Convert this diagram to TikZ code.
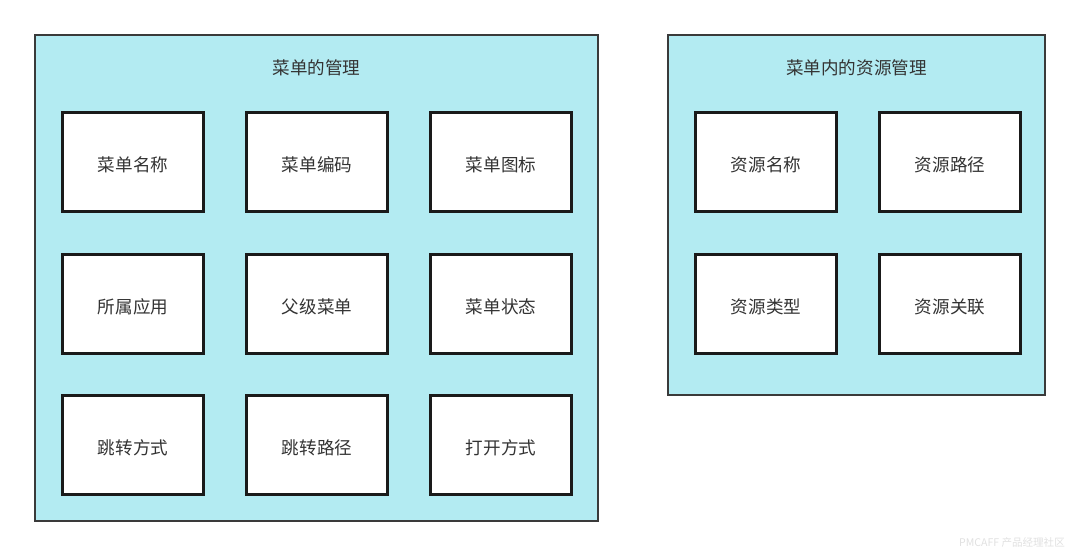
\documentclass[tikz,border=0pt]{standalone}
\usepackage{fontspec}
\setmainfont{Noto Sans CJK SC}
\definecolor{panelfill}{HTML}{B3EBF2}
\definecolor{panelline}{HTML}{3A3A3A}
\definecolor{itemline}{HTML}{1A1A1A}
\definecolor{textgray}{HTML}{333333}
\tikzset{
  panel/.style={draw=panelline, fill=panelfill, line width=1.2pt, rectangle},
  item/.style={draw=itemline, fill=white, line width=1.7pt, rectangle, minimum width=2.84cm, minimum height=2cm, text height=12pt, text depth=1pt, text=textgray, font=\fontsize{10}{12}\selectfont},
  heading/.style={text=textgray, text height=11pt, text depth=1pt, font=\fontsize{10}{12}\selectfont}
}
\begin{document}
\begin{tikzpicture}[x=0.02cm, y=-0.02cm]
\useasboundingbox (0,0) rectangle (1080,557);
% menu panel
\node[panel, minimum width=11.26cm, minimum height=9.72cm] (menu) at (316.5,278) {};
\node[heading] (menutitle) at (316.5,66) {菜单的管理};
\node[item] (name) at (133,162) {菜单名称};
\node[item] (code) at (317,162) {菜单编码};
\node[item] (icon) at (501,162) {菜单图标};
\node[item] (app) at (133,304) {所属应用};
\node[item] (parent) at (317,304) {父级菜单};
\node[item] (state) at (501,304) {菜单状态};
\node[item] (jump) at (133,445) {跳转方式};
\node[item] (jumppath) at (317,445) {跳转路径};
\node[item] (open) at (501,445) {打开方式};
% resource panel
\node[panel, minimum width=7.54cm, minimum height=7.2cm] (res) at (856.5,215) {};
\node[heading] (restitle) at (856.5,66) {菜单内的资源管理};
\node[item] (resname) at (766,162) {资源名称};
\node[item] (respath) at (950,162) {资源路径};
\node[item] (restype) at (766,304) {资源类型};
\node[item] (reslink) at (950,304) {资源关联};
% watermark
\node[text=black!12, font=\fontsize{6}{7}\selectfont] (mark) at (1012,543) {PMCAFF 产品经理社区};
\end{tikzpicture}
\end{document}
